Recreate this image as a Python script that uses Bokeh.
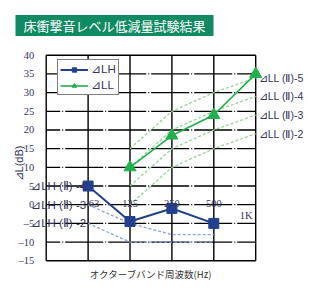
from math import pi
from bokeh.plotting import figure
from bokeh.models import Label, Range1d
from bokeh.embed import file_html
from bokeh.resources import INLINE

title_text = "床衝撃音レベル低減量試験結果"
x_title = "オクターブバンド周波数(Hz)"
y_title = "⊿L(dB)"
freqs = ["63", "125", "250", "500", "1K"]
y_ticks = [-15, -10, -5, 0, 5, 10, 15, 20, 25, 30, 35, 40]

lh_freqs = ["63", "125", "250", "500"]
dLH = [5, -4.5, -1, -5]
ll_freqs = ["125", "250", "500", "1K"]
dLL = [10, 18.5, 24, 35]

lh_ref_names = ["⊿LH (Ⅱ) -4", "⊿LH (Ⅱ) -3", "⊿LH (Ⅱ) -2"]
lh_ref_at63 = [5, 0, -5]
lh_ref_3 = [0, -5, -8, -8]
lh_ref_2 = [-5, -10, -10, -10]

ll_ref_names = ["⊿LL (Ⅱ)-5", "⊿LL (Ⅱ)-4", "⊿LL (Ⅱ)-3", "⊿LL (Ⅱ)-2"]
ll_ref_5 = [15, 25, 30, 34]
ll_ref_4 = [10, 20, 25, 29]
ll_ref_3 = [5, 15, 20, 24]
ll_ref_2 = [0, 10, 15, 19]

pos = {f: i + 1 for i, f in enumerate(freqs)}
x_lh = [pos[f] for f in lh_freqs]
x_ll = [pos[f] for f in ll_freqs]
x_first, x_last = 0, pos[freqs[-1]]
y_lo, y_hi = y_ticks[0], y_ticks[-1]

CJK = "Noto Sans CJK JP"
NUM = "Liberation Sans Narrow"
SANS = "Liberation Sans"
TXT = "#34345e"

W, H = 310, 290
# frame covers the whole canvas; ranges chosen so the plotting box sits where the reference has it
p = figure(width=W, height=H, x_range=Range1d(-1.091, 6.308), y_range=Range1d(-22.963, 54.655),
           output_backend="svg", toolbar_location=None,
           x_axis_location=None, y_axis_location=None,
           min_border=0, min_border_left=0, min_border_right=0, min_border_top=0, min_border_bottom=0)
p.outline_line_color = None
p.grid.visible = False
p.background_fill_color = "white"
p.border_fill_color = "white"

# horizontal grid lines
inner = y_ticks[1:-1]
p.segment(x0=x_first, x1=x_last, y0=inner, y1=inner, line_color="black", line_width=1.3,
          line_dash="38 2 1 2", line_dash_offset=24)
p.segment(x0=x_first, x1=x_last, y0=[y_lo, y_hi], y1=[y_lo, y_hi], line_color="black", line_width=1.5)
# vertical lines (frame borders + band lines)
vx = [x_first] + x_lh + [x_last]
p.segment(x0=vx, x1=vx, y0=y_lo, y1=y_hi, line_color="black", line_width=1.4)

# y tick labels
tick_txt = [str(t).replace("-", "\u2013") for t in y_ticks]
p.text(x=x_first, y=y_ticks, text=tick_txt, x_offset=-12, text_align="right", text_baseline="middle",
       text_font={"value": NUM}, text_font_size="10.5px", text_color=TXT)

# reference curves
for ys in (lh_ref_3, lh_ref_2):
    p.line(x_lh, ys, line_color="#88a4dc", line_width=1.3, line_dash="3 2")
for ys in (ll_ref_5, ll_ref_4, ll_ref_3, ll_ref_2):
    p.line(x_ll, ys, line_color="#95d495", line_width=1.3, line_dash="3 2")

# measured series
p.line(x_lh, dLH, line_color="#23408e", line_width=2, legend_label="⊿LH")
p.scatter(x_lh, dLH, marker="square", size=10, fill_color="#23408e", line_color="#23408e",
          legend_label="⊿LH")
p.line(x_ll, dLL, line_color="#21b04b", line_width=1.6, legend_label="⊿LL")
p.scatter(x_ll, dLL, marker="triangle", size=12, fill_color="#21b04b", line_color="#21b04b",
          legend_label="⊿LL")

lg = p.legend[0]
lg.location = (57, 195)
lg.border_line_color = "black"
lg.border_line_width = 1.5
lg.background_fill_color = "white"
lg.background_fill_alpha = 1
lg.label_text_font = SANS
lg.label_text_font_size = "11.5px"
lg.label_text_color = TXT
lg.glyph_width = 28
lg.glyph_height = 11
lg.label_height = 11
lg.label_standoff = 3
lg.padding = 2
lg.spacing = 2
lg.margin = 0

# frequency labels inside plot
p.text(x=[pos[freqs[0]]], y=[0], text=[freqs[0]], x_offset=6, y_offset=-1,
       text_align="center", text_baseline="alphabetic",
       text_font={"value": NUM}, text_font_size="10.5px", text_color=TXT)
mid = freqs[1:4]
p.text(x=[pos[f] for f in mid], y=[0] * len(mid), text=mid, y_offset=-1,
       text_align="center", text_baseline="alphabetic",
       text_font={"value": NUM}, text_font_size="10.5px", text_color=TXT)
p.text(x=[pos[freqs[4]]], y=[-3], text=[freqs[4]], x_offset=-3,
       text_align="right", text_baseline="middle",
       text_font={"value": NUM}, text_font_size="10.5px", text_color=TXT)

# reference-curve labels
p.text(x=[pos["63"]] * 3, y=lh_ref_at63, text=lh_ref_names, x_offset=-2,
       text_align="right", text_baseline="middle",
       text_font={"value": SANS}, text_font_size="11.5px", text_color=TXT)
ll_ends = [r[-1] for r in (ll_ref_5, ll_ref_4, ll_ref_3, ll_ref_2)]
p.text(x=[x_last] * 4, y=ll_ends, text=ll_ref_names, x_offset=3,
       text_align="left", text_baseline="middle",
       text_font={"value": SANS}, text_font_size="10.5px", text_color=TXT)

# axis titles
p.add_layout(Label(x=18, y=127, x_units="screen", y_units="screen", text=y_title, angle=pi / 2,
                   text_align="center", text_baseline="middle",
                   text_font=SANS, text_font_size="11px", text_color=TXT))
p.add_layout(Label(x=(x_first + x_last) / 2, y=17, y_units="screen", text=x_title,
                   text_align="center", text_baseline="middle",
                   text_font=CJK, text_font_size="9.5px", text_color="#333333"))

# chart title
p.add_layout(Label(x=15, y=265, x_units="screen", y_units="screen", text=title_text,
                   text_align="left", text_baseline="middle",
                   text_font=CJK, text_font_size="13px", text_color="white",
                   background_fill_color="#108a62", padding=(8, 1)))

open("out.html", "w").write(file_html(p, INLINE))
